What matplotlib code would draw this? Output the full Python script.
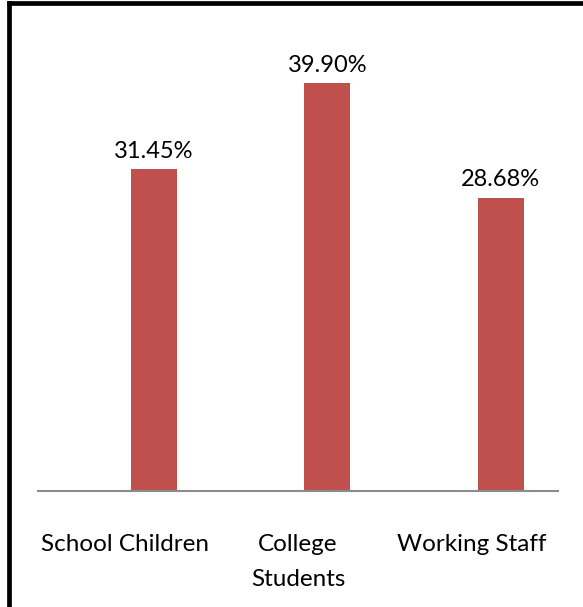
import matplotlib
matplotlib.use("Agg")
import matplotlib.pyplot as plt
from matplotlib.lines import Line2D
import numpy as np

categories = ["School Children", "College\nStudents", "Working Staff"]
values = [31.45, 39.90, 28.68]
value_labels = ["31.45%", "39.90%", "28.68%"]

W, H = 583, 607
DPI = 100
plt.rcParams['font.family'] = ['Lato', 'DejaVu Sans']

fig = plt.figure(figsize=(W / DPI, H / DPI), dpi=DPI)
fig.patch.set_facecolor("white")

# axes in pixel geometry
left, right, bottom, top = 38, 558, 491, 40
ax = fig.add_axes([left / W, 1 - bottom / H, (right - left) / W, (bottom - top) / H])

x = np.arange(len(categories))
offset = 0.17
bars = ax.bar(x + offset, values, width=0.265, color="#C0504D", zorder=2)

ax.set_xlim(-0.5, 2.5)
ax.set_ylim(0, (bottom - top) / 10.23)

for xi, v, lab in zip(x, values, value_labels):
    ax.annotate(lab, (xi + offset, v), xytext=(0, 8), textcoords="offset points",
                ha="center", va="baseline", fontsize=17, color="black")

ax.set_xticks(x)
ax.set_xticklabels(categories, fontsize=17.5, linespacing=1.8)
ax.tick_params(axis="x", length=0, pad=31)
ax.set_yticks([])
for s in ["top", "right", "left"]:
    ax.spines[s].set_visible(False)
ax.spines["bottom"].set_color("#8C8C8C")
ax.spines["bottom"].set_linewidth(1.5)

# outer border (left and top visible)
fig.add_artist(Line2D([9 / W, 9 / W], [0, 1 - 3 / H], transform=fig.transFigure,
                      color="black", linewidth=3.4, solid_capstyle="projecting"))
fig.add_artist(Line2D([9 / W, 1], [1 - 3 / H, 1 - 3 / H], transform=fig.transFigure,
                      color="black", linewidth=3.4, solid_capstyle="projecting"))

fig.savefig("out.png", dpi=DPI, facecolor="white")
